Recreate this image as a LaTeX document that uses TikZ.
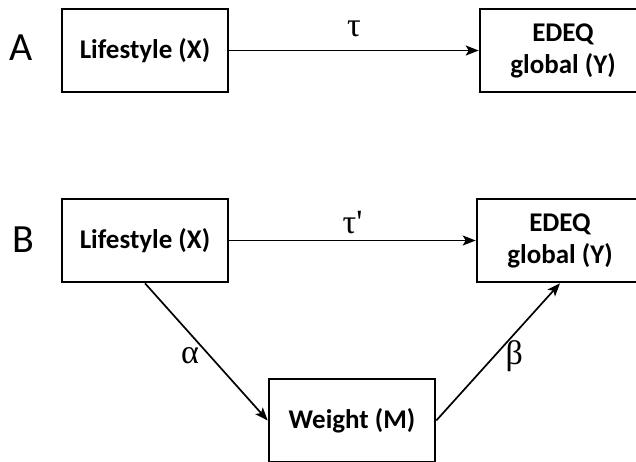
\documentclass[tikz,border=0pt]{standalone}
\usepackage{fontspec}
\setmainfont{Carlito}
\newfontfamily\greekfont{Liberation Serif}
\usetikzlibrary{arrows.meta,positioning}

\begin{document}
\begin{tikzpicture}[x=1pt,y=-1pt,
  varbox/.style={draw, line width=2.6pt, minimum width=166pt, minimum height=83pt,
    inner sep=0pt, align=center, font=\fontsize{27}{32}\selectfont\bfseries},
  effect/.style={line width=1.7pt, -{Stealth[length=13pt,width=10pt,inset=3pt]}},
  panel/.style={font=\fontsize{40}{40}\selectfont},
  coef/.style={font=\fontsize{34}{34}\selectfont\greekfont}]
  \useasboundingbox (0,0) rectangle (636,461);
  % Panel A: total effect
  \node[panel] (labA) at (21,48) {A};
  \node[varbox] (xA) at (145,50.5) {Lifestyle (X)};
  \node[varbox] (yA) at (563,50.5) {EDEQ\\global (Y)};
  \draw[effect] (xA) -- node[coef, above=9pt] {τ} (yA);
  % Panel B: mediation through weight
  \node[panel] (labB) at (23,240) {B};
  \node[varbox] (xB) at (145,240.5) {Lifestyle (X)};
  \node[varbox] (yB) at (560,240.5) {EDEQ\\global (Y)};
  \node[varbox] (mB) at (352,420.5) {Weight (M)};
  \draw[effect] (xB) -- node[coef, above=2pt] {τ\textquotesingle} (yB);
  \draw[effect] (xB.south) -- node[coef, pos=0.53, left=7pt] {α} (mB.west);
  \draw[effect] (mB.east) -- node[coef, pos=0.47, right=7pt] {β} (yB.south);
\end{tikzpicture}
\end{document}
